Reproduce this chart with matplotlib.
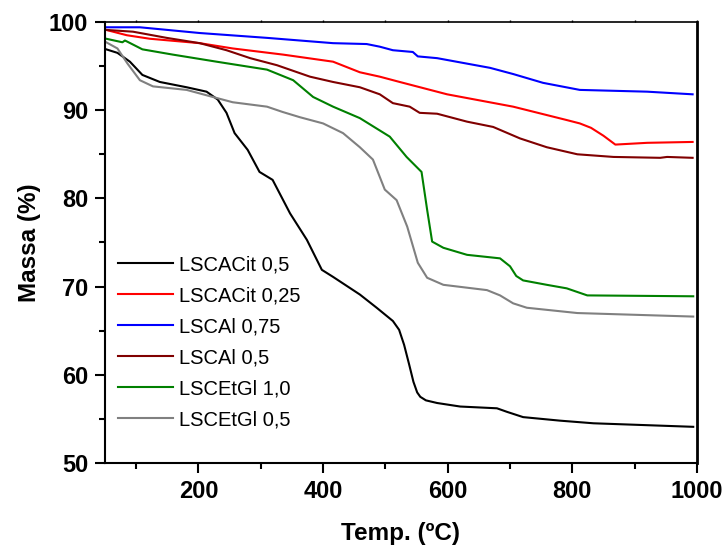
import matplotlib
matplotlib.use("Agg")
import matplotlib.pyplot as plt
from matplotlib.ticker import MultipleLocator

plt.rcParams["font.family"] = ["Liberation Sans", "DejaVu Sans"]

# LSCACit 0,5
t_acit05 = [52, 70, 90, 110, 138, 181, 213, 231, 245, 258, 279, 298, 319, 347, 374, 398, 416,
            459, 486, 512, 522, 530, 538, 545, 551, 556, 565, 583, 620, 679, 695, 721, 780,
            834, 994]
m_acit05 = [96.9, 96.5, 95.5, 94.0, 93.2, 92.6, 92.1, 91.2, 89.7, 87.4, 85.5, 83.0, 82.1, 78.3,
            75.3, 71.9, 71.1, 69.1, 67.6, 66.1, 65.1, 63.4, 61.2, 59.2, 58.0, 57.5, 57.1,
            56.8, 56.4, 56.2, 55.8, 55.2, 54.8, 54.5, 54.1]

# LSCACit 0,25
t_acit025 = [52, 85, 122, 202, 255, 336, 416, 459, 491, 523, 599, 705, 790, 812, 830, 850,
             869, 920, 993]
m_acit025 = [99.1, 98.5, 98.1, 97.6, 97.0, 96.3, 95.5, 94.3, 93.8, 93.2, 91.8, 90.4, 88.9,
             88.5, 88.0, 87.1, 86.1, 86.3, 86.4]

# LSCAl 0,75
t_al075 = [52, 106, 202, 310, 416, 470, 491, 512, 544, 552, 583, 668, 705, 753, 812, 920, 993]
m_al075 = [99.4, 99.4, 98.75, 98.2, 97.6, 97.5, 97.2, 96.8, 96.6, 96.1, 95.9, 94.8, 94.1,
           93.1, 92.3, 92.1, 91.8]

# LSCAl 0,5
t_al05 = [52, 95, 149, 202, 245, 283, 326, 379, 416, 459, 491, 512, 539, 555, 583, 631, 673,
          716, 759, 808, 866, 941, 952, 993]
m_al05 = [99.1, 98.9, 98.2, 97.6, 96.8, 95.9, 95.1, 93.8, 93.2, 92.6, 91.8, 90.8, 90.4, 89.7,
          89.6, 88.7, 88.1, 86.8, 85.8, 85.0, 84.7, 84.6, 84.7, 84.6]

# LSCEtGl 1,0
t_etgl10 = [52, 78, 82, 85, 110, 159, 229, 310, 352, 384, 416, 459, 507, 534, 558, 567, 575,
            593, 631, 684, 700, 710, 721, 759, 791, 824, 994]
m_etgl10 = [98.1, 97.7, 97.9, 97.8, 96.9, 96.3, 95.5, 94.6, 93.4, 91.5, 90.4, 89.1, 87.0,
            84.7, 83.0, 78.7, 75.1, 74.4, 73.6, 73.2, 72.3, 71.2, 70.7, 70.2, 69.8, 69.0, 68.9]

# LSCEtGl 0,5
t_etgl05 = [52, 70, 86, 106, 127, 181, 223, 255, 310, 335, 363, 400, 432, 459, 480, 499, 518,
            535, 552, 567, 593, 663, 684, 705, 727, 808, 994]
m_etgl05 = [97.7, 97.0, 95.3, 93.4, 92.7, 92.3, 91.5, 90.9, 90.4, 89.8, 89.2, 88.5, 87.4,
            85.8, 84.4, 81.0, 79.8, 76.8, 72.7, 71.0, 70.2, 69.6, 69.0, 68.1, 67.6, 67.0, 66.6]

series = [
    (t_acit05, m_acit05, "LSCACit 0,5", "black"),
    (t_acit025, m_acit025, "LSCACit 0,25", "#ff0000"),
    (t_al075, m_al075, "LSCAl 0,75", "#0000ff"),
    (t_al05, m_al05, "LSCAl 0,5", "#800000"),
    (t_etgl10, m_etgl10, "LSCEtGl 1,0", "#008000"),
    (t_etgl05, m_etgl05, "LSCEtGl 0,5", "#808080"),
]

fig = plt.figure(figsize=(7.27, 5.54), dpi=100)
ax = fig.add_axes([0.1444, 0.1643, 0.8143, 0.796])

for t, m, lab, col in series:
    ax.plot(t, m, color=col, lw=1.5, label=lab)

ax.set_xlim(50, 1000)
ax.set_ylim(50, 100)
ax.xaxis.set_major_locator(MultipleLocator(200))
ax.xaxis.set_minor_locator(MultipleLocator(100))
ax.yaxis.set_major_locator(MultipleLocator(10))
ax.yaxis.set_minor_locator(MultipleLocator(5))
ax.tick_params(which="major", direction="out", length=7, width=1.5, labelsize=17, pad=5)
ax.tick_params(which="minor", direction="out", length=4, width=1.5)
ax.tick_params(axis="x", which="both", top=True)
for tk in ax.xaxis.get_major_ticks() + ax.xaxis.get_minor_ticks():
    tk.tick2line.set_markersize(1.5)
    tk.tick2line.set_markeredgewidth(1)
for lab in ax.get_xticklabels() + ax.get_yticklabels():
    lab.set_fontweight("bold")
for s in ax.spines.values():
    s.set_linewidth(1.5)
ax.spines["right"].set_linewidth(2)
ax.spines["top"].set_linewidth(1.2)

ax.set_xlabel("Temp. (ºC)", fontsize=17.5, fontweight="bold", labelpad=14)
ax.set_ylabel("Massa (%)", fontsize=17.5, fontweight="bold", labelpad=6)

ax.legend(loc="lower left", bbox_to_anchor=(-0.008, 0.035), frameon=False, fontsize=14.5,
          handlelength=2.7, handletextpad=0.3, labelspacing=0.6)

fig.savefig("out.png", dpi=100)
